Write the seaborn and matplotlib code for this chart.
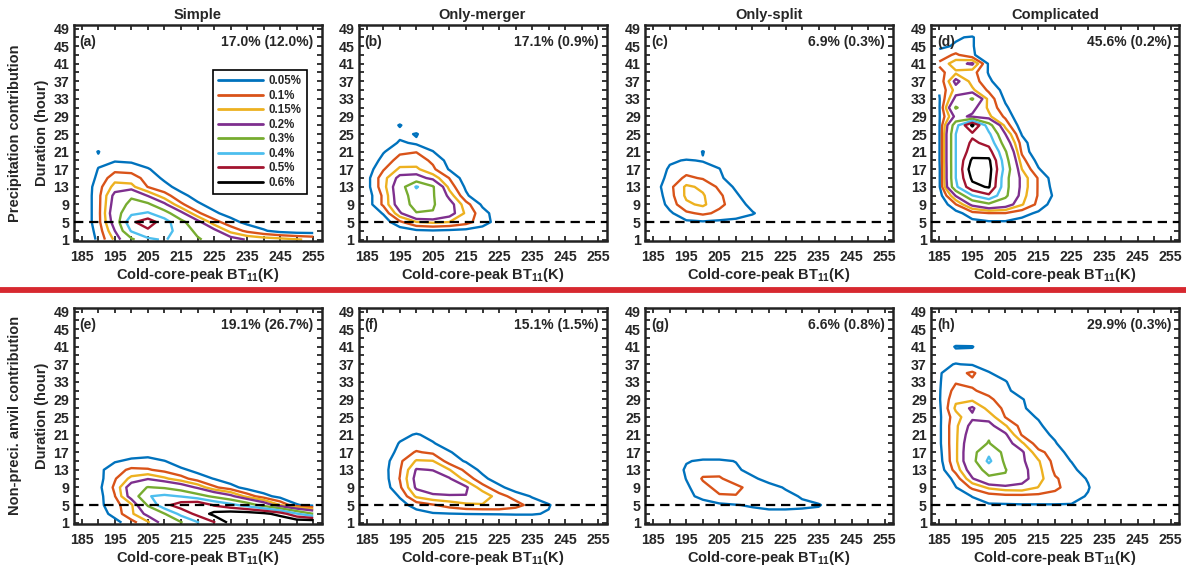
import numpy as np
import matplotlib
matplotlib.use("Agg")
import matplotlib.pyplot as plt
from matplotlib.lines import Line2D
import seaborn as sns

# ---------------- data ----------------
bt_bins = list(range(185, 256, 5))          # cold-core-peak BT11 (K)
duration_bins = list(range(1, 50, 2))       # duration (hour)
levels = [0.05, 0.1, 0.15, 0.2, 0.3, 0.4, 0.5, 0.6]
level_labels = ["0.05%", "0.1%", "0.15%", "0.2%", "0.3%", "0.4%", "0.5%", "0.6%"]
level_colors = ["#0072BD", "#D95319", "#EDB120", "#7E2F8E",
                "#77AC30", "#4DBEEE", "#A2142F", "#000000"]
col_titles = ["Simple", "Only-merger", "Only-split", "Complicated"]
row_labels = ["Precipitation contribution", "Non-preci. anvil contribution"]
panel_letters = ["(a)", "(b)", "(c)", "(d)", "(e)", "(f)", "(g)", "(h)"]
panel_totals = ["17.0% (12.0%)", "17.1% (0.9%)", "6.9% (0.3%)", "45.6% (0.2%)",
                "19.1% (26.7%)", "15.1% (1.5%)", "6.6% (0.8%)", "29.9% (0.3%)"]

# rows: duration 1,3,5,... ; columns: BT 185,190,195,... (missing -> 0)
simple_prec = [
    [0.0, 0.06, 0.16, 0.28, 0.38, 0.41, 0.35, 0.31, 0.27, 0.23, 0.195, 0.18, 0.17, 0.155, 0.14],
    [0.0, 0.07, 0.2, 0.41, 0.48, 0.45, 0.35, 0.28, 0.22, 0.133, 0.088, 0.056, 0.03, 0.02, 0.02],
    [0.0, 0.083, 0.233, 0.48, 0.56, 0.44, 0.33, 0.222, 0.12, 0.069, 0.035, 0.02, 0.01],
    [0.0, 0.083, 0.25, 0.38, 0.41, 0.343, 0.22, 0.11, 0.059, 0.03, 0.01],
    [0.0, 0.083, 0.233, 0.33, 0.32, 0.214, 0.11, 0.059, 0.03, 0.01],
    [0.0, 0.083, 0.22, 0.285, 0.195, 0.121, 0.065, 0.03, 0.01],
    [0.0, 0.079, 0.17, 0.165, 0.098, 0.067, 0.03, 0.01],
    [0.0, 0.0625, 0.13, 0.125, 0.08, 0.04, 0.02],
    [0.0, 0.052, 0.085, 0.08, 0.055, 0.02],
    [0.0, 0.04, 0.045, 0.04, 0.02],
    [0.0, 0.053],
]
merger_prec = [
    [],
    [0, 0, 0.02, 0.04, 0.045, 0.04, 0.035, 0.03],
    [0, 0.02, 0.09, 0.148, 0.16, 0.15, 0.12, 0.07, 0.03],
    [0, 0.055, 0.19, 0.295, 0.295, 0.23, 0.14, 0.07, 0.02],
    [0.02, 0.11, 0.24, 0.34, 0.31, 0.23, 0.12, 0.04],
    [0.02, 0.11, 0.25, 0.35, 0.31, 0.18, 0.06],
    [0.03, 0.13, 0.25, 0.41, 0.31, 0.13, 0.04],
    [0.03, 0.13, 0.22, 0.23, 0.18, 0.098, 0.02],
    [0.02, 0.095, 0.16, 0.16, 0.11, 0.045],
    [0.0, 0.07, 0.12, 0.125, 0.09, 0.03],
    [0.0, 0.045, 0.09, 0.098, 0.052],
    [0, 0, 0.06, 0.04, 0.02],
    [0, 0, 0.03, 0.055],
    [0, 0, 0.055],
]
split_prec = [
    [],
    [],
    [0, 0.01, 0.04, 0.045, 0.04, 0.035, 0.02],
    [0, 0.04, 0.09, 0.11, 0.09, 0.075, 0.055, 0.02],
    [0, 0.07, 0.14, 0.16, 0.11, 0.08, 0.03],
    [0.01, 0.08, 0.16, 0.155, 0.11, 0.06, 0.01],
    [0.02, 0.085, 0.16, 0.14, 0.09, 0.04],
    [0.01, 0.07, 0.11, 0.095, 0.06, 0.02],
    [0, 0.06, 0.08, 0.075, 0.052],
    [0, 0.04, 0.055, 0.046, 0.03],
    [0, 0, 0, 0.053],
]
complicated_prec = [
    [],
    [],
    [0, 0.01, 0.035, 0.045, 0.045, 0.03],
    [0, 0.03, 0.08, 0.098, 0.098, 0.07, 0.04],
    [0.0, 0.098, 0.22, 0.28, 0.24, 0.155, 0.085, 0.02],
    [0.02, 0.205, 0.395, 0.48, 0.32, 0.17, 0.095, 0.04],
    [0.04, 0.38, 0.57, 0.61, 0.33, 0.18, 0.095, 0.03],
    [0.04, 0.4, 0.62, 0.63, 0.33, 0.18, 0.095, 0.02],
    [0.04, 0.4, 0.66, 0.64, 0.36, 0.15, 0.055],
    [0.045, 0.4, 0.62, 0.62, 0.34, 0.12, 0.03],
    [0.045, 0.4, 0.55, 0.54, 0.31, 0.09],
    [0.045, 0.4, 0.52, 0.47, 0.25, 0.075],
    [0.045, 0.4, 0.48, 0.42, 0.2, 0.045],
    [0.045, 0.36, 0.62, 0.34, 0.13, 0.02],
    [0.045, 0.22, 0.19, 0.16, 0.09],
    [0.045, 0.31, 0.22, 0.14, 0.06],
    [0.045, 0.22, 0.31, 0.13, 0.04],
    [0.055, 0.17, 0.16, 0.09, 0.03],
    [0.06, 0.22, 0.13, 0.06, 0.01],
    [0.08, 0.14, 0.12, 0.045],
    [0.11, 0.18, 0.21, 0.04],
    [0.07, 0.11, 0.06],
    [0.04, 0.055, 0.055],
    [0, 0.045, 0.055],
]
simple_anvil = [
    [0, 0, 0.03, 0.08, 0.14, 0.23, 0.29, 0.39, 0.49, 0.63, 0.7, 0.72, 0.72, 0.7, 0.72],
    [0, 0.02, 0.07, 0.14, 0.22, 0.295, 0.43, 0.53, 0.63, 0.66, 0.66, 0.63, 0.56, 0.41, 0.3],
    [0, 0.035, 0.08, 0.14, 0.31, 0.47, 0.55, 0.59, 0.49, 0.43, 0.36, 0.26, 0.148, 0.055, 0.03],
    [0, 0.03, 0.098, 0.23, 0.395, 0.42, 0.395, 0.34, 0.28, 0.22, 0.13, 0.07, 0.03, 0.01],
    [0, 0.035, 0.11, 0.24, 0.305, 0.29, 0.25, 0.19, 0.11, 0.07, 0.03, 0.01],
    [0, 0.03, 0.095, 0.165, 0.195, 0.16, 0.12, 0.075, 0.048, 0.02],
    [0, 0.035, 0.08, 0.11, 0.105, 0.085, 0.06, 0.035, 0.01],
    [0, 0.01, 0.045, 0.06, 0.065, 0.052, 0.02],
    [0, 0, 0, 0.025, 0.03],
]
merger_anvil = [
    [],
    [0, 0, 0, 0.03, 0.045, 0.048, 0.051, 0.052, 0.053, 0.055, 0.055, 0.045],
    [0, 0, 0.03, 0.07, 0.095, 0.12, 0.14, 0.145, 0.145, 0.12, 0.08, 0.055, 0.01],
    [0, 0, 0.055, 0.16, 0.19, 0.195, 0.198, 0.19, 0.12, 0.08, 0.045, 0.01],
    [0, 0.02, 0.09, 0.21, 0.23, 0.23, 0.21, 0.12, 0.065, 0.02],
    [0, 0.025, 0.102, 0.22, 0.23, 0.205, 0.13, 0.065, 0.02],
    [0, 0.03, 0.095, 0.205, 0.198, 0.152, 0.085, 0.035],
    [0, 0.025, 0.09, 0.155, 0.152, 0.075, 0.045],
    [0, 0.01, 0.07, 0.105, 0.09, 0.055, 0.02],
    [0, 0, 0.055, 0.07, 0.055, 0.02],
    [0, 0, 0.03, 0.056, 0.03],
]
split_anvil = [
    [],
    [0, 0, 0, 0.01, 0.02, 0.03, 0.035, 0.035, 0.035, 0.035, 0.03],
    [0, 0, 0, 0.02, 0.04, 0.048, 0.055, 0.065, 0.065, 0.06, 0.055, 0.02],
    [0, 0, 0.03, 0.07, 0.095, 0.098, 0.09, 0.075, 0.065, 0.045, 0.02],
    [0, 0, 0.04, 0.085, 0.115, 0.11, 0.085, 0.07, 0.045, 0.01],
    [0, 0, 0.052, 0.105, 0.105, 0.08, 0.06, 0.03],
    [0, 0, 0.06, 0.08, 0.085, 0.06, 0.03],
    [0, 0, 0.045, 0.06, 0.06, 0.048],
]
complicated_anvil = [
    [],
    [],
    [0, 0, 0.03, 0.045, 0.045, 0.047, 0.047, 0.047, 0.047, 0.03],
    [0, 0.02, 0.052, 0.075, 0.085, 0.085, 0.085, 0.085, 0.07, 0.045],
    [0, 0.048, 0.11, 0.16, 0.18, 0.185, 0.148, 0.11, 0.08, 0.055],
    [0, 0.07, 0.195, 0.28, 0.29, 0.22, 0.17, 0.105, 0.08, 0.045],
    [0.02, 0.12, 0.24, 0.34, 0.305, 0.22, 0.165, 0.09, 0.065, 0.02],
    [0.03, 0.14, 0.27, 0.42, 0.28, 0.21, 0.155, 0.08, 0.048],
    [0.035, 0.14, 0.27, 0.38, 0.27, 0.21, 0.115, 0.075, 0.03],
    [0.04, 0.14, 0.26, 0.305, 0.23, 0.16, 0.07, 0.055, 0.01],
    [0.04, 0.14, 0.24, 0.29, 0.21, 0.095, 0.07, 0.04],
    [0.04, 0.14, 0.22, 0.22, 0.155, 0.08, 0.06, 0.02],
    [0.04, 0.13, 0.19, 0.18, 0.098, 0.07, 0.045],
    [0.04, 0.16, 0.21, 0.13, 0.09, 0.06, 0.02],
    [0.045, 0.14, 0.14, 0.11, 0.075, 0.055, 0.01],
    [0.045, 0.12, 0.105, 0.085, 0.065, 0.02],
    [0.045, 0.095, 0.09, 0.075, 0.055],
    [0.045, 0.08, 0.11, 0.055, 0.02],
    [0.04, 0.052, 0.045, 0.02],
    [0, 0.03, 0.03],
    [0, 0.055, 0.053],
]
panels = [simple_prec, merger_prec, split_prec, complicated_prec,
          simple_anvil, merger_anvil, split_anvil, complicated_anvil]


def to_field(rows):
    z = np.zeros((len(duration_bins), len(bt_bins)))
    for i, r in enumerate(rows):
        z[i, :len(r)] = r
    return z


# ---------------- style ----------------
sns.set_theme(style="ticks")
plt.rcParams["font.family"] = ["Liberation Sans", "DejaVu Sans"]
plt.rcParams["font.weight"] = "bold"
plt.rcParams["axes.labelweight"] = "bold"
plt.rcParams["axes.titleweight"] = "bold"
plt.rcParams["mathtext.fontset"] = "custom"
plt.rcParams["mathtext.rm"] = "Liberation Sans:bold"
plt.rcParams["mathtext.bf"] = "Liberation Sans:bold"
plt.rcParams["mathtext.it"] = "Liberation Sans:bold"
palette = sns.color_palette(level_colors)

W, H = 1186, 568
fig = plt.figure(figsize=(W / 100, H / 100), dpi=100)
fig.patch.set_facecolor("white")

lefts = [73.5, 358.5, 645.0, 931.0]
tops = [25.0, 308.0]
aw, ah = 248.0, 215.5

for idx in range(8):
    r, c = divmod(idx, 4)
    ax = fig.add_axes([lefts[c] / W, 1 - (tops[r] + ah) / H, aw / W, ah / H])
    ax.set_facecolor("white")
    z = to_field(panels[idx])
    ax.contour(bt_bins, duration_bins, z, levels=levels, colors=palette,
               linewidths=1.7, zorder=2)
    ax.axhline(5, color="black", lw=1.6, ls=(0, (4.2, 2.6)), zorder=3)
    ax.set_xlim(182.5, 257.5)
    ax.set_ylim(0.8, 49.8)
    ax.set_xticks(range(185, 256, 10))
    ax.set_xticks(range(185, 256, 5), minor=True)
    ax.set_yticks(range(1, 50, 4))
    ax.set_yticks(range(1, 50, 2), minor=True)
    ax.tick_params(which="both", direction="in", top=True, right=True,
                   width=1.1, length=3.5, color="black")
    ax.tick_params(axis="x", which="major", labelsize=10.2, pad=6.5)
    ax.tick_params(axis="y", which="major", labelsize=10.2, pad=3)
    for lbl in ax.get_xticklabels() + ax.get_yticklabels():
        lbl.set_fontweight("bold")
    for sp in ax.spines.values():
        sp.set_linewidth(1.8)
        sp.set_color("#222222")
    ax.set_xlabel(r"Cold-core-peak BT$_{\mathbf{11}}$(K)", fontsize=10.5, labelpad=1.5)
    if c == 0:
        ax.set_ylabel("Duration (hour)", fontsize=10.5, labelpad=3)
    if r == 0:
        ax.set_title(col_titles[c], fontsize=10.5, pad=4)
    ax.text(0.025, 0.955, panel_letters[idx], transform=ax.transAxes,
            ha="left", va="top", fontsize=10, fontweight="bold")
    ax.text(0.968, 0.955, panel_totals[idx], transform=ax.transAxes,
            ha="right", va="top", fontsize=10, fontweight="bold")
    if idx == 0:
        handles = [Line2D([0], [0], color=palette[i], lw=2) for i in range(len(levels))]
        leg = ax.legend(handles, level_labels, loc="upper right",
                        bbox_to_anchor=(0.965, 0.818), fontsize=8.3,
                        handlelength=3.9, labelspacing=0.22, borderpad=0.45,
                        handletextpad=0.5, frameon=True, fancybox=False,
                        framealpha=1, edgecolor="black")
        leg.get_frame().set_linewidth(1.2)
        for t in leg.get_texts():
            t.set_fontweight("bold")

for r in range(2):
    yc = 1 - (tops[r] + ah / 2) / H
    fig.text(15 / W, yc, row_labels[r], rotation=90, ha="center", va="center",
             fontsize=10.5, fontweight="bold")

fig.add_artist(Line2D([0, 1], [1 - 289.5 / H, 1 - 289.5 / H],
                      transform=fig.transFigure, color="#d7282f", lw=4.2))

fig.savefig("out.png", dpi=100, facecolor="white")
